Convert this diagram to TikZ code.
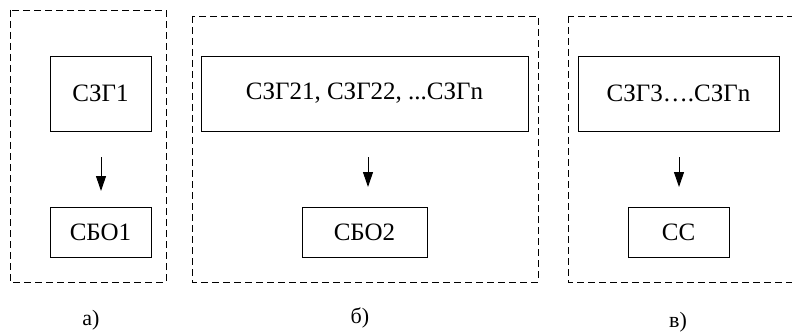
\documentclass[tikz,border=0pt]{standalone}
\usepackage{fontspec}
\setmainfont{Liberation Serif}
\usetikzlibrary{arrows.meta}
\begin{document}
\begin{tikzpicture}[x=1pt,y=-1pt,
  panel/.style={draw, line width=0.9pt, dash pattern=on 7pt off 4pt},
  blk/.style={draw, line width=0.9pt, inner sep=0pt, font=\fontsize{25}{29}\selectfont},
  lbl/.style={font=\fontsize{22}{26}\selectfont, inner sep=0pt},
  arr/.style={line width=1pt, -{Triangle[length=15pt,width=10pt]}}]
\clip (0,0) rectangle (792,334);
\fill[white] (0,0) rectangle (792,334);
% panels
\draw[panel] (10,10) rectangle (166,282);
\draw[panel] (192,16) rectangle (538,282);
\draw[panel] (568,16) rectangle (800,282);
% a)
\node[blk, minimum width=101pt, minimum height=75pt] (g1) at (100.5,93.5) {СЗГ1};
\node[blk, minimum width=101pt, minimum height=50pt] (b1) at (100.5,232) {СБО1};
\coordinate (a1s) at (101,157);
\coordinate (a1e) at (101,191);
\draw[arr] (a1s) -- (a1e);
\node[lbl] (la) at (91,320) {а)};
% b)
\node[blk, minimum width=327pt, minimum height=75pt] (g2) at (364.5,93.5) {СЗГ21, СЗГ22, ...СЗГn};
\node[blk, minimum width=125pt, minimum height=50pt] (b2) at (364.5,232) {СБО2};
\coordinate (a2s) at (368,157);
\coordinate (a2e) at (368,187);
\draw[arr] (a2s) -- (a2e);
\node[lbl] (lb) at (360,318) {б)};
% v)
\node[blk, minimum width=201pt, minimum height=75pt] (g3) at (678.5,93.5) {СЗГ3….СЗГn};
\node[blk, minimum width=101pt, minimum height=50pt] (b3) at (678.5,232) {СС};
\coordinate (a3s) at (679,157);
\coordinate (a3e) at (679,187);
\draw[arr] (a3s) -- (a3e);
\node[lbl] (lc) at (678,322) {в)};
\end{tikzpicture}
\end{document}
